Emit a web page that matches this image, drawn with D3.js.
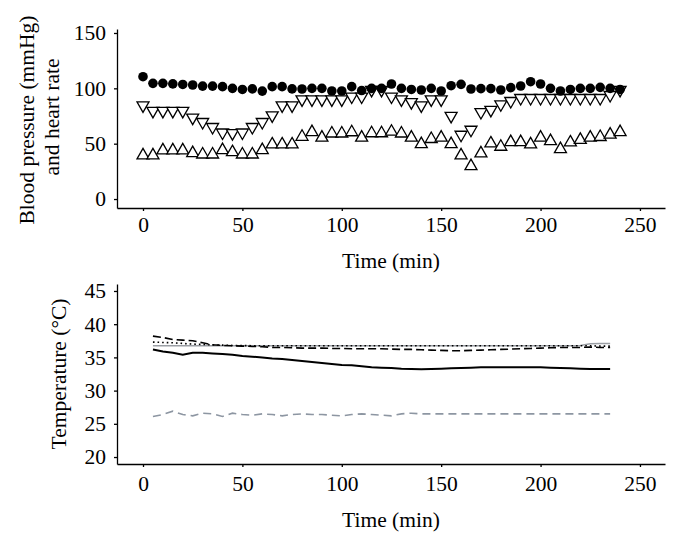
<!DOCTYPE html>
<html><head><meta charset="utf-8">
<script src="https://cdn.jsdelivr.net/npm/d3@7"></script>
<style>
body{margin:0;background:#fff}
svg{display:block}
text{font-family:"Liberation Serif","Times New Roman",serif;fill:#000}
</style>
</head><body>
<svg id="c" width="679" height="543"></svg>
<script>
// ---------- DATA ----------
const timeBP = [0,5,10,15,20,25,30,35,40,45,50,55,60,65,70,75,80,85,90,95,100,105,110,115,120,125,130,135,140,145,150,155,160,165,170,175,180,185,190,195,200,205,210,215,220,225,230,235,240];
const seriesCircle = [110.5,104.5,104.5,104,103.5,103,102,102,101.5,100,99,99.5,97.5,101.5,101.5,99.5,99.4,100,100,97.6,97.6,101.5,98,100,100,103.9,100,99,98.5,100,97.6,102.4,103.6,99.4,99.7,99.7,98.5,100.6,102.1,106,103.9,100,97.6,99,100,100,100.9,100,99];
const seriesDown = [83,78,78,78,78,72,68,63.5,58.5,58,58.5,63.5,68,74,83,83,88.5,88.5,88.5,88.5,88.5,91,91,97,97,91,88.5,86,83,88.5,88.5,73.5,56.5,61,77,79,84,87,89.7,89.7,89.7,89.7,89.7,89.7,89.7,89.7,89.7,92.4,97];
const seriesUp = [41,41,45.5,45.5,45.5,43,41.8,41.8,45.8,43.9,41.8,41.8,45.8,50.9,50.9,50.9,57.8,62,57,60.8,60.8,61.9,57,61,61,62.4,60.8,57,51.2,55.8,57,51.2,41,31.3,42.8,51.8,48.8,53,53,51,57,53.9,46.7,52.7,55,57,57.6,59.8,62];

const timeT = [5,10,15,20,25,30,35,40,45,50,55,60,65,70,75,80,85,90,95,100,105,110,115,120,125,130,135,140,145,150,155,160,165,170,175,180,185,190,195,200,205,210,215,220,225,230,235];
const tempSolidBlack = [36.2,35.9,35.7,35.4,35.7,35.7,35.6,35.5,35.4,35.2,35.1,35.0,34.85,34.75,34.6,34.45,34.3,34.15,34.0,33.85,33.8,33.65,33.5,33.45,33.4,33.3,33.25,33.2,33.25,33.3,33.35,33.4,33.45,33.5,33.5,33.5,33.5,33.5,33.5,33.5,33.45,33.4,33.35,33.3,33.25,33.25,33.25];
const tempDashedBlack = [38.2,38.0,37.7,37.6,37.5,37.2,36.9,36.8,36.75,36.7,36.65,36.6,36.5,36.5,36.45,36.4,36.4,36.4,36.35,36.35,36.3,36.3,36.3,36.3,36.25,36.2,36.2,36.15,36.1,36.05,36.0,36.0,36.05,36.1,36.15,36.2,36.25,36.3,36.35,36.4,36.45,36.5,36.5,36.5,36.55,36.5,36.5];
const tempDotted = [37.3,37.25,37.2,37.1,37.0,36.95,36.9,36.85,36.8,36.78,36.76,36.75,36.75,36.75,36.75,36.75,36.75,36.75,36.75,36.75,36.75,36.75,36.75,36.75,36.75,36.75,36.75,36.75,36.75,36.75,36.75,36.75,36.75,36.75,36.75,36.75,36.75,36.75,36.75,36.75,36.75,36.75,36.75,36.75,36.75,36.7,36.7];
const tempSolidGray = [36.75,36.75,36.75,36.75,36.75,36.75,36.75,36.75,36.75,36.75,36.75,36.75,36.75,36.75,36.75,36.75,36.75,36.75,36.75,36.75,36.75,36.75,36.75,36.75,36.75,36.75,36.75,36.75,36.75,36.75,36.75,36.75,36.75,36.75,36.75,36.75,36.75,36.75,36.75,36.75,36.75,36.75,36.75,36.8,37.05,37.1,37.1];
const tempDashedGray = [26.1,26.4,26.9,26.4,26.2,26.6,26.5,26.1,26.6,26.4,26.3,26.5,26.4,26.2,26.4,26.5,26.4,26.4,26.3,26.2,26.4,26.5,26.4,26.3,26.2,26.5,26.6,26.5,26.5,26.5,26.5,26.5,26.5,26.5,26.5,26.5,26.5,26.5,26.5,26.5,26.5,26.5,26.5,26.5,26.5,26.5,26.5];

const xTicks = [0,50,100,150,200,250];
const yTicksBP = [0,50,100,150];
const yTicksT = [20,25,30,35,40,45];

// ---------- DRAW ----------
const svg = d3.select("#c");
const FS = 21.5;

function axisStyle(g){
  g.selectAll("path.domain").attr("stroke","#000").attr("stroke-width",1.3);
  g.selectAll(".tick line").attr("stroke","#000").attr("stroke-width",1.3);
  g.selectAll(".tick text").style("font-size",FS+"px").style("font-family",'"Liberation Serif","Times New Roman",serif').attr("fill","#000");
}

// Top panel
const x1 = d3.scaleLinear().domain([-13.08, 262.6]).range([117, 665]);
const y1 = d3.scaleLinear().domain([-8.1, 153.6]).range([208, 29]);

svg.append("g").attr("transform","translate(0,208)")
  .call(d3.axisBottom(x1).tickValues(xTicks).tickSize(3).tickSizeOuter(0).tickPadding(6))
  .call(axisStyle);
svg.append("g").attr("transform","translate(117,0)")
  .call(d3.axisLeft(y1).tickValues(yTicksBP).tickSize(3).tickSizeOuter(0).tickPadding(8))
  .call(axisStyle);

const tw = 12, th = 10.5;
const upPath = `M0,${-th/2}L${tw/2},${th/2}L${-tw/2},${th/2}Z`;
const downPath = `M0,${th/2}L${tw/2},${-th/2}L${-tw/2},${-th/2}Z`;

svg.append("g").selectAll("path").data(timeBP.map((t,i)=>[t,seriesUp[i]])).join("path")
  .attr("d", upPath)
  .attr("transform", d=>`translate(${x1(d[0])},${y1(d[1])})`)
  .attr("fill","#fff").attr("stroke","#000").attr("stroke-width",1.3);
svg.append("g").selectAll("path").data(timeBP.map((t,i)=>[t,seriesDown[i]])).join("path")
  .attr("d", downPath)
  .attr("transform", d=>`translate(${x1(d[0])},${y1(d[1])})`)
  .attr("fill","#fff").attr("stroke","#000").attr("stroke-width",1.3);
svg.append("g").selectAll("circle").data(timeBP.map((t,i)=>[t,seriesCircle[i]])).join("circle")
  .attr("cx", d=>x1(d[0])).attr("cy", d=>y1(d[1])).attr("r",4.8).attr("fill","#000");

svg.append("text").attr("x",391).attr("y",268).attr("text-anchor","middle").style("font-size",FS+"px").text("Time (min)");
svg.append("text").attr("transform","translate(34,120) rotate(-90)").attr("text-anchor","middle").style("font-size",FS+"px").text("Blood pressure (mmHg)");
svg.append("text").attr("transform","translate(59,117) rotate(-90)").attr("text-anchor","middle").style("font-size",FS+"px").text("and heart rate");

// Bottom panel
const x2 = d3.scaleLinear().domain([-13.08, 262.6]).range([117, 665]);
const y2 = d3.scaleLinear().domain([18.95, 46.05]).range([464, 284]);

svg.append("g").attr("transform","translate(0,464)")
  .call(d3.axisBottom(x2).tickValues(xTicks).tickSize(3).tickSizeOuter(0).tickPadding(9))
  .call(axisStyle);
svg.append("g").attr("transform","translate(117,0)")
  .call(d3.axisLeft(y2).tickValues(yTicksT).tickSize(3).tickSizeOuter(0).tickPadding(8))
  .call(axisStyle);

const line = d3.line().x(d=>x2(d[0])).y(d=>y2(d[1]));
function drawLine(vals, color, width, dash){
  svg.append("path").datum(timeT.map((t,i)=>[t,vals[i]]))
    .attr("d", line).attr("fill","none").attr("stroke",color).attr("stroke-width",width)
    .attr("stroke-dasharray", dash || null);
}
drawLine(tempDashedGray, "#8d96a2", 1.6, "8,5");
drawLine(tempSolidGray, "#9a9ea4", 1.4, null);
drawLine(tempDotted, "#000", 1.6, "1.6,3");
drawLine(tempDashedBlack, "#000", 1.6, "8,4");
drawLine(tempSolidBlack, "#000", 2, null);

svg.append("text").attr("x",391).attr("y",527).attr("text-anchor","middle").style("font-size",FS+"px").text("Time (min)");
svg.append("text").attr("transform","translate(66,374) rotate(-90)").attr("text-anchor","middle").style("font-size",FS+"px").text("Temperature (°C)");
</script>
</body></html>
